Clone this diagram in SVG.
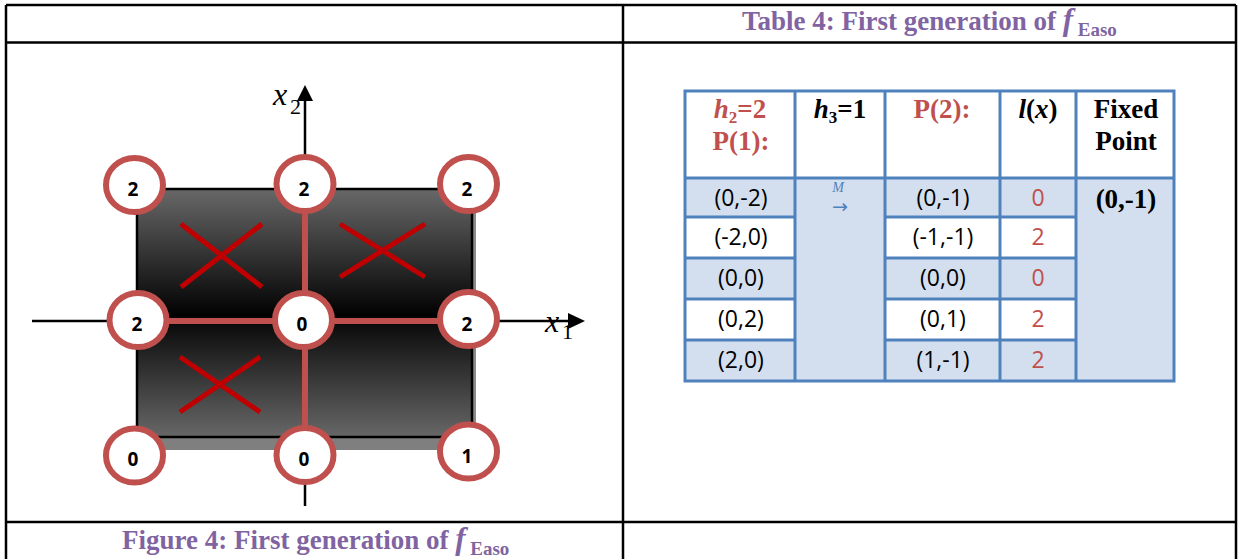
<svg xmlns="http://www.w3.org/2000/svg" width="1240" height="559" viewBox="0 0 1240 559">
<style>
.frame{stroke:#000;stroke-width:2.5;fill:none}
.cap{font-family:"Liberation Serif",serif;font-weight:bold;font-size:27px;fill:#8064A2}
.node ellipse{fill:#fff;stroke:#C0504D;stroke-width:6}
.node text{font-family:"Open Sans",sans-serif;font-weight:bold;font-size:19px;text-anchor:middle;fill:#000}
.edge{stroke:#C0504D;stroke-width:6;fill:none}
.xm{stroke:#C00000;stroke-width:5}
.axis{stroke:#000;stroke-width:2.5}
.ax{font-family:"Liberation Serif",serif;fill:#000}
.grid{stroke:#4F81BD;stroke-width:3;fill:none}
.hd{font-family:"Liberation Serif",serif;font-weight:bold;font-size:27px;text-anchor:middle}
.dt{font-family:"Open Sans",sans-serif;font-size:23px;text-anchor:middle;fill:#000}
.red{fill:#C0504D}
</style>
<defs>
<linearGradient id="gUp" x1="0" y1="0" x2="0" y2="1"><stop offset="0" stop-color="#686868"/><stop offset="1" stop-color="#000"/></linearGradient>
<linearGradient id="gDn" x1="0" y1="0" x2="0" y2="1"><stop offset="0" stop-color="#050505"/><stop offset="1" stop-color="#676767"/></linearGradient>
</defs>
<rect width="1240" height="559" fill="#fff"/>
<g id="frame">
<line class="frame" x1="6" y1="5" x2="1236" y2="5"/>
<line class="frame" x1="6" y1="42.5" x2="1236" y2="42.5"/>
<line class="frame" x1="6" y1="522" x2="1236" y2="522"/>
<line class="frame" x1="6" y1="5" x2="6" y2="559"/>
<line class="frame" x1="623" y1="5" x2="623" y2="559"/>
<line class="frame" x1="1236" y1="5" x2="1236" y2="559"/>
</g>
<text class="cap" x="742" y="30">Table 4: First generation of <tspan font-style="italic" font-size="31">f</tspan><tspan font-size="19" dy="6"> Easo</tspan></text>
<text class="cap" x="122" y="549">Figure 4: First generation of <tspan font-style="italic" font-size="31">f</tspan><tspan font-size="19" dy="6"> Easo</tspan></text>
<g id="axes">
<line class="axis" x1="305" y1="100" x2="305" y2="506"/>
<polygon points="305,85 297,101 313,101" fill="#000"/>
<line class="axis" x1="32" y1="321" x2="569" y2="321"/>
<polygon points="585,321 568,313 568,329" fill="#000"/>
<text class="ax" x="273" y="105" font-style="italic" font-size="32">x</text>
<text class="ax" x="290" y="114" font-size="22">2</text>
<text class="ax" x="545" y="332" font-style="italic" font-size="32">x</text>
<text class="ax" x="562" y="339" font-size="22">1</text>
</g>
<g id="region">
<rect x="150" y="436" width="326" height="14" fill="#7f7f7f"/>
<rect x="472" y="192" width="4" height="250" fill="#8a8a8a"/>
<rect x="137" y="189" width="335" height="128" fill="url(#gUp)"/>
<rect x="137" y="316" width="335" height="121" fill="url(#gDn)"/>
<rect x="137" y="189" width="335" height="248" fill="none" stroke="#000" stroke-width="2.5"/>
</g>
<g id="crosses">
<line class="xm" x1="181" y1="224" x2="262" y2="287"/>
<line class="xm" x1="262" y1="224" x2="181" y2="287"/>
<line class="xm" x1="340" y1="224" x2="425" y2="277"/>
<line class="xm" x1="425" y1="224" x2="340" y2="277"/>
<line class="xm" x1="180" y1="357" x2="260" y2="412"/>
<line class="xm" x1="260" y1="357" x2="180" y2="412"/>
</g>
<g id="connectors">
<line class="edge" x1="305" y1="184" x2="305" y2="455"/>
<line class="edge" x1="138" y1="321" x2="468" y2="321"/>
</g>
<g id="n-tl" class="node"><ellipse cx="134.5" cy="185" rx="28.5" ry="27"/><text x="133" y="196">2</text></g>
<g id="n-tm" class="node"><ellipse cx="305" cy="184" rx="28.5" ry="27"/><text x="304" y="196">2</text></g>
<g id="n-tr" class="node"><ellipse cx="468.5" cy="184" rx="28.5" ry="27"/><text x="467" y="196">2</text></g>
<g id="n-ml" class="node"><ellipse cx="138" cy="320" rx="28.5" ry="27"/><text x="137" y="331">2</text></g>
<g id="n-mm" class="node"><ellipse cx="303.5" cy="320" rx="28.5" ry="27"/><text x="302" y="331">0</text></g>
<g id="n-mr" class="node"><ellipse cx="468.5" cy="319" rx="28.5" ry="27"/><text x="467" y="331">2</text></g>
<g id="n-bl" class="node"><ellipse cx="134.5" cy="455.5" rx="28.5" ry="27"/><text x="133" y="466">0</text></g>
<g id="n-bm" class="node"><ellipse cx="305" cy="455" rx="28.5" ry="27"/><text x="304" y="466">0</text></g>
<g id="n-br" class="node"><ellipse cx="468.5" cy="451.5" rx="28.5" ry="27"/><text x="467" y="463">1</text></g>
<g id="table">
<rect x="685" y="178" width="489" height="203" fill="#D3DFEE"/>
<rect x="685" y="217" width="110" height="41" fill="#fff"/>
<rect x="885" y="217" width="191" height="41" fill="#fff"/>
<rect x="685" y="299" width="110" height="41" fill="#fff"/>
<rect x="885" y="299" width="191" height="41" fill="#fff"/>
<rect class="grid" x="685" y="91" width="489" height="290"/>
<line class="grid" x1="685" y1="178" x2="1174" y2="178" stroke-width="4.5"/>
<line class="grid" x1="795" y1="91" x2="795" y2="381"/>
<line class="grid" x1="885" y1="91" x2="885" y2="381"/>
<line class="grid" x1="1000" y1="91" x2="1000" y2="381"/>
<line class="grid" x1="1076" y1="91" x2="1076" y2="381"/>
<line class="grid" x1="685" y1="217" x2="795" y2="217"/>
<line class="grid" x1="685" y1="258" x2="795" y2="258"/>
<line class="grid" x1="685" y1="299" x2="795" y2="299"/>
<line class="grid" x1="685" y1="340" x2="795" y2="340"/>
<line class="grid" x1="885" y1="217" x2="1076" y2="217"/>
<line class="grid" x1="885" y1="258" x2="1076" y2="258"/>
<line class="grid" x1="885" y1="299" x2="1076" y2="299"/>
<line class="grid" x1="885" y1="340" x2="1076" y2="340"/>
<text class="hd red" x="740" y="118"><tspan font-style="italic">h</tspan><tspan font-size="17" dy="5">2</tspan><tspan dy="-5">=2</tspan></text>
<text class="hd red" x="741" y="150">P(1):</text>
<text class="hd" x="840" y="118"><tspan font-style="italic">h</tspan><tspan font-size="17" dy="5">3</tspan><tspan dy="-5">=1</tspan></text>
<text class="hd red" x="942" y="118">P(2):</text>
<text class="hd" x="1038" y="118" font-weight="normal"><tspan font-style="italic" font-weight="bold">l</tspan>(<tspan font-style="italic">x</tspan>)</text>
<text class="hd" x="1126" y="118">Fixed</text>
<text class="hd" x="1126" y="150">Point</text>
<text class="dt" x="741" y="206">(0,-2)</text>
<text class="dt" x="741" y="245">(-2,0)</text>
<text class="dt" x="741" y="286">(0,0)</text>
<text class="dt" x="741" y="327">(0,2)</text>
<text class="dt" x="741" y="368">(2,0)</text>
<text x="838" y="192" font-family="Liberation Serif,serif" font-style="italic" font-size="14" fill="#4F81BD" text-anchor="middle">M</text>
<text x="840" y="213" font-family="DejaVu Sans,sans-serif" font-size="19" fill="#4F81BD" text-anchor="middle">→</text>
<text class="dt" x="943" y="206">(0,-1)</text>
<text class="dt" x="943" y="245">(-1,-1)</text>
<text class="dt" x="943" y="286">(0,0)</text>
<text class="dt" x="943" y="327">(0,1)</text>
<text class="dt" x="943" y="368">(1,-1)</text>
<text class="dt red" x="1038" y="206">0</text>
<text class="dt red" x="1038" y="245">2</text>
<text class="dt red" x="1038" y="286">0</text>
<text class="dt red" x="1038" y="327">2</text>
<text class="dt red" x="1038" y="368">2</text>
<text class="hd" x="1126" y="208" font-size="28">(0,-1)</text>
</g>
</svg>
